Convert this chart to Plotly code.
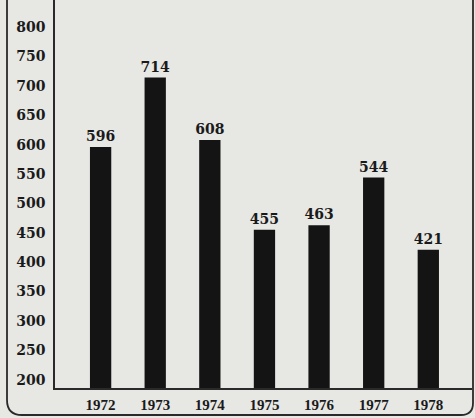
import plotly.graph_objects as go

years = ["1972", "1973", "1974", "1975", "1976", "1977", "1978"]
values = [596, 714, 608, 455, 463, 544, 421]
y_ticks = [200, 250, 300, 350, 400, 450, 500, 550, 600, 650, 700, 750, 800]

W, H = 475, 418
ml, mr, mt, mb = 55, 3, 0, 30
pw, ph = W - ml - mr, H - mt - mb

def px_x(px):
    return (px - ml) / pw

def px_y(py):
    return (H - mb - py) / ph

bg = "#e7e7e4"
ink = "#1a1a1a"
serif_a = "DejaVu Serif"
serif_b = "Liberation Serif"

fig = go.Figure()
fig.add_trace(go.Bar(
    x=years, y=values, width=0.39,
    marker=dict(color="#141414", line=dict(width=0)),
    text=[str(v) for v in values], textposition="outside",
    constraintext="none",
    textfont=dict(family=serif_a, size=14, color=ink, weight="bold"),
    cliponaxis=False,
))

# outer rounded frame
xl, xr = px_x(7), px_x(473)
yb, yt = px_y(415), 1.02
rxl, ryl = 15 / pw, 15 / ph
rxr, ryr = 12 / pw, 12 / ph
path = (f"M {xl},{yt} L {xl},{yb + ryl} Q {xl},{yb} {xl + rxl},{yb} "
        f"L {xr - rxr},{yb} Q {xr},{yb} {xr},{yb + ryr} L {xr},{yt}")
fig.add_shape(type="path", path=path, xref="paper", yref="paper",
              line=dict(color="#2a2a2a", width=1.8))

fig.update_layout(
    width=W, height=H,
    margin=dict(l=ml, r=mr, t=mt, b=mb, pad=0),
    paper_bgcolor=bg, plot_bgcolor=bg,
    showlegend=False,
    xaxis=dict(
        range=[-0.835, 6.80], showgrid=False, zeroline=False,
        showline=True, linecolor="#2a2a2a", linewidth=1.5,
        ticks="", ticklabelstandoff=2, automargin=False,
        tickfont=dict(family=serif_b, size=15, color=ink, weight="bold"),
    ),
    yaxis=dict(
        range=[186, 846], tickvals=y_ticks, showgrid=False, zeroline=False,
        showline=True, linecolor="#2a2a2a", linewidth=1.5,
        ticks="", ticklabelstandoff=5, automargin=False,
        tickfont=dict(family=serif_a, size=14, color=ink, weight="bold"),
    ),
    font=dict(family=serif_a, color=ink),
)

fig.write_html("out.html", config={"displayModeBar": False},
               post_script="document.body.style.margin='0';document.body.style.background='%s';" % bg)
